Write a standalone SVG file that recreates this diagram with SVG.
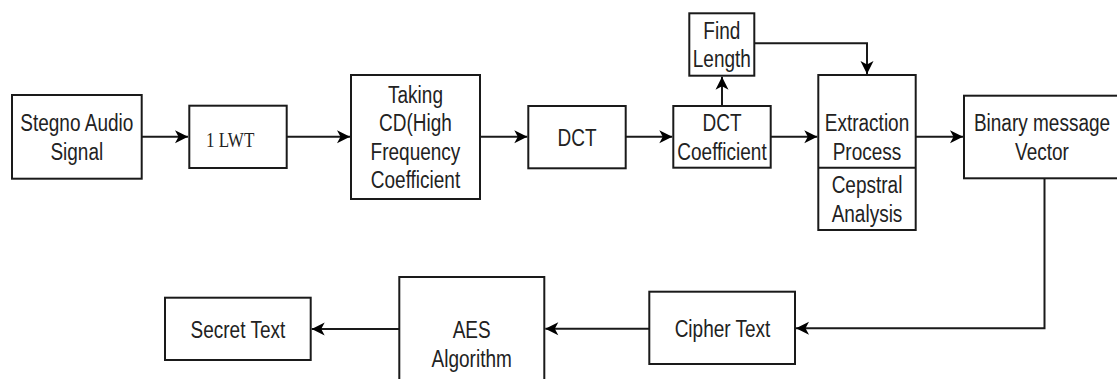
<svg xmlns="http://www.w3.org/2000/svg" width="1117" height="379" viewBox="0 0 1117 379">
<style>
.box{fill:#fff;stroke:#1a1a1a;stroke-width:2}
.t{font-family:"Liberation Sans",Arial,sans-serif;font-size:19px;fill:#222;text-anchor:middle}
.s{font-family:"Liberation Serif","Times New Roman",serif;font-size:17px;fill:#222}
.c{fill:none;stroke:#1a1a1a;stroke-width:2}
</style>
<defs>
<marker id="arr" markerUnits="userSpaceOnUse" markerWidth="16" markerHeight="16" viewBox="-14 -8 16 16" refX="0" refY="0" orient="auto">
<path d="M0,0 L-13,-6.5 L-9.5,0 L-13,6.5 Z" fill="#000"/>
</marker>
</defs>
<rect width="1117" height="379" fill="#fff"/>
<g id="connectors">
<path class="c" d="M141.7,136.7 H188" marker-end="url(#arr)"/>
<path class="c" d="M286.7,136.7 H350" marker-end="url(#arr)"/>
<path class="c" d="M480,136.7 H527.3" marker-end="url(#arr)"/>
<path class="c" d="M625.7,136.7 H672.3" marker-end="url(#arr)"/>
<path class="c" d="M722,106 V76.7" marker-end="url(#arr)"/>
<path class="c" d="M754.3,43.3 H867 V74" marker-end="url(#arr)"/>
<path class="c" d="M770.7,136.7 H817.3" marker-end="url(#arr)"/>
<path class="c" d="M915.7,136.7 H963" marker-end="url(#arr)"/>
<path class="c" d="M1044.5,178.3 V328.3 H796" marker-end="url(#arr)"/>
<path class="c" d="M649.3,328.8 H545.3" marker-end="url(#arr)"/>
<path class="c" d="M399.3,329 H311.7" marker-end="url(#arr)"/>
</g>
<g id="stegno">
<rect class="box" x="12" y="95" width="129.7" height="83.7"/>
<text class="t" transform="translate(76.8,131.3) scale(1,1.25)">Stegno Audio</text>
<text class="t" transform="translate(76.8,159.8) scale(1,1.25)">Signal</text>
</g>
<g id="lwt">
<rect class="box" x="189.3" y="105.7" width="97.4" height="62.3"/>
<text class="s" transform="translate(206,146.7) scale(1,1.25)">1 LWT</text>
</g>
<g id="taking">
<rect class="box" x="351" y="75" width="129" height="124"/>
<text class="t" transform="translate(415.5,102.75) scale(1,1.25)">Taking</text>
<text class="t" transform="translate(415.5,131.25) scale(1,1.25)">CD(High</text>
<text class="t" transform="translate(415.5,159.75) scale(1,1.25)">Frequency</text>
<text class="t" transform="translate(415.5,188.25) scale(1,1.25)">Coefficient</text>
</g>
<g id="dct">
<rect class="box" x="528.3" y="106" width="97.4" height="62.3"/>
<text class="t" transform="translate(577,145.9) scale(1,1.25)">DCT</text>
</g>
<g id="findlength">
<rect class="box" x="689.3" y="13.3" width="65" height="62.4"/>
<text class="t" transform="translate(721.8,39.2) scale(1,1.25)">Find</text>
<text class="t" transform="translate(721.8,67.3) scale(1,1.25)">Length</text>
</g>
<g id="dctcoef">
<rect class="box" x="673.3" y="106" width="97.4" height="61.7"/>
<text class="t" transform="translate(722,131.3) scale(1,1.25)">DCT</text>
<text class="t" transform="translate(722,159.8) scale(1,1.25)">Coefficient</text>
</g>
<g id="extraction">
<rect class="box" x="818.3" y="75" width="97.4" height="155"/>
<line class="c" x1="818.3" y1="167.7" x2="915.7" y2="167.7"/>
<text class="t" transform="translate(867,131.3) scale(1,1.25)">Extraction</text>
<text class="t" transform="translate(867,159.8) scale(1,1.25)">Process</text>
<text class="t" transform="translate(867,193.2) scale(1,1.25)">Cepstral</text>
<text class="t" transform="translate(867,221.7) scale(1,1.25)">Analysis</text>
</g>
<g id="binary">
<rect class="box" x="964" y="95.7" width="161" height="82.6"/>
<text class="t" transform="translate(1042,131.3) scale(1,1.25)">Binary message</text>
<text class="t" transform="translate(1042,159.8) scale(1,1.25)">Vector</text>
</g>
<g id="cipher">
<rect class="box" x="649.3" y="291.7" width="145.7" height="72.3"/>
<text class="t" transform="translate(722.5,337) scale(1,1.25)">Cipher Text</text>
</g>
<g id="aes">
<rect class="box" x="399.3" y="277" width="145" height="134"/>
<text class="t" transform="translate(471.7,338.3) scale(1,1.25)">AES</text>
<text class="t" transform="translate(471.7,366.8) scale(1,1.25)">Algorithm</text>
</g>
<g id="secret">
<rect class="box" x="165" y="297.7" width="145.7" height="62.3"/>
<text class="t" transform="translate(237.9,337.8) scale(1,1.25)">Secret Text</text>
</g>
</svg>
